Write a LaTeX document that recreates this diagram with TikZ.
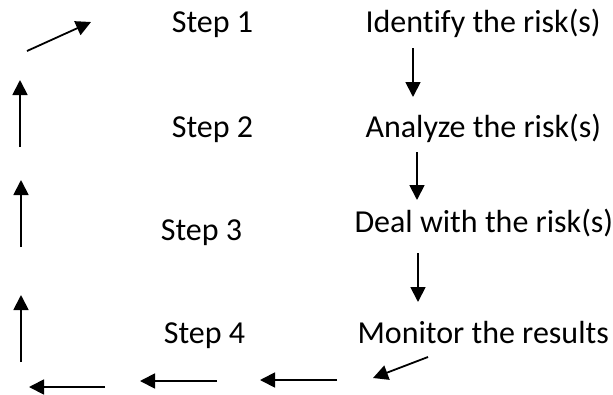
\documentclass[tikz,border=0pt]{standalone}
\usepackage{fontspec}
\setmainfont{Carlito}[Ligatures=NoCommon]
\usepackage{tikz}
\usetikzlibrary{positioning,arrows.meta}

\begin{document}
\begin{tikzpicture}[
    x=1pt, y=-1pt,
    node distance=112pt,
    stage/.style={inner sep=0pt, anchor=base, font=\fontsize{32}{38}\selectfont},
    task/.style={inner sep=0pt, font=\fontsize{32}{38}\selectfont},
    arrow/.style={-{Triangle[length=15pt, width=15pt]}, line width=1.8pt}
]
\useasboundingbox (0,0) rectangle (613,394);

% Steps
\node[stage] (s1) at (212.5,32) {Step 1};
\node[stage] (s2) at (212.5,137) {Step 2};
\node[stage] (s3) at (201.5,240) {Step 3};
\node[stage] (s4) at (204.5,343) {Step 4};

% Tasks
\node[task, base right=of s1] (t1) {Identify the risk(s)};
\node[task, base right=of s2] (t2) {Analyze the risk(s)};
\node[task, base right=of s3, yshift=8pt] (t3) {Deal with the risk(s)};
\node[task, base right=of s4] (t4) {Monitor the results};

% Arrow ends
\coordinate (r1a) at (413,48);  \coordinate (r1b) at (413,97);
\coordinate (r2a) at (417,152); \coordinate (r2b) at (417,200);
\coordinate (r3a) at (418,253); \coordinate (r3b) at (418,302);
\coordinate (d1a) at (428,357); \coordinate (d1b) at (373,378);
\coordinate (b1a) at (337,380); \coordinate (b1b) at (260,380);
\coordinate (b2a) at (217,381); \coordinate (b2b) at (140,381);
\coordinate (b3a) at (105,387); \coordinate (b3b) at (29,387);
\coordinate (l1a) at (21,362);  \coordinate (l1b) at (21,295);
\coordinate (l2a) at (21,247);  \coordinate (l2b) at (21,180);
\coordinate (l3a) at (20,147);  \coordinate (l3b) at (20,80);
\coordinate (d2a) at (27,51);   \coordinate (d2b) at (91,22);

% Flows
\draw[arrow] (r1a) -- (r1b);
\draw[arrow] (r2a) -- (r2b);
\draw[arrow] (r3a) -- (r3b);
\draw[arrow] (d1a) -- (d1b);
\draw[arrow] (b1a) -- (b1b);
\draw[arrow] (b2a) -- (b2b);
\draw[arrow] (b3a) -- (b3b);
\draw[arrow] (l1a) -- (l1b);
\draw[arrow] (l2a) -- (l2b);
\draw[arrow] (l3a) -- (l3b);
\draw[arrow] (d2a) -- (d2b);

\end{tikzpicture}
\end{document}
